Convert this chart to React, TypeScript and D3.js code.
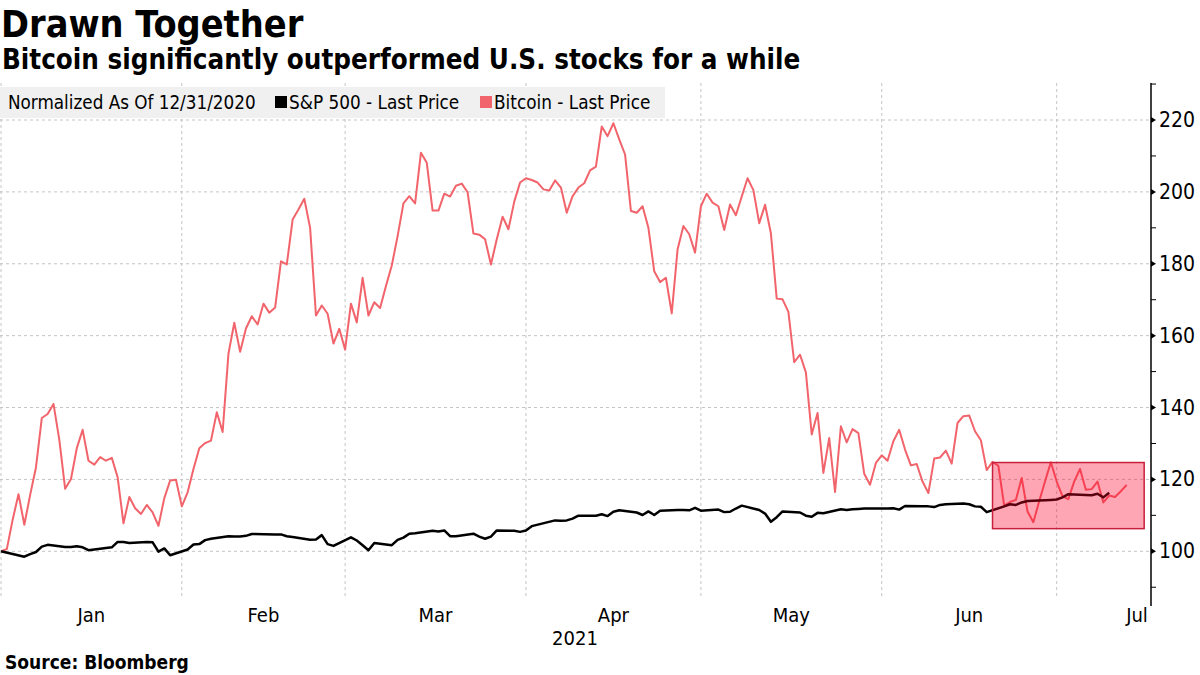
import * as d3 from "d3";

// Bitcoin, daily from 12/31/2020, normalized to 100
const btcStart = "2020-12-31";
const btcValues = [
  100, 100.6, 108.8, 115.9, 107.4, 115.7, 123.4, 137.1, 138.2, 141, 131, 117.4, 120.1, 128.7, 133.8, 125.2,
  124.1, 126.2, 125.2, 126, 120.6, 107.8, 115.1, 112, 110.4, 112.9, 110.8, 107.1, 114.8, 119.7, 119.9, 112.5,
  116.4, 122.9, 128.7, 130.1, 130.8, 138.7, 133.2, 155, 163.6, 155.5, 162, 165.4, 163.1, 168.9, 166.4, 167.8,
  180.7, 179.8, 192.3, 195.1, 198.1, 190, 165.6, 168.4, 166.1, 157.8, 161.9, 156.1, 168.9, 163.7, 176.1, 165.6,
  169.3, 167.7, 173.8, 179.5, 187.7, 196.8, 198.8, 196.8, 210.9, 208.1, 194.8, 194.8, 199.5, 198.7, 201.7, 202.3,
  199.9, 188.4, 188.1, 186.8, 179.8, 186.8, 193.1, 189.6, 197.3, 202.6, 203.8, 203.3, 202.6, 200.7, 200.4, 203.2,
  201.2, 194.2, 198.8, 201.2, 202.4, 206, 207, 218.2, 215.5, 219.1, 214.6, 210.4, 194.7, 194.2, 196, 190,
  177.9, 174.9, 176.1, 166.2, 184, 190.5, 188.2, 183.1, 196, 199.5, 197, 196, 189.4, 196.5, 193.5, 198.7,
  203.8, 200.5, 191.3, 196.4, 188.5, 170.3, 170.1, 166.6, 152.6, 154.7, 149.8, 132.5, 138.5, 121.8, 131.5, 116.5,
  134.8, 130.3, 134, 132.9, 121.6, 118.5, 124.6, 126.7, 125.2, 130.6, 133.8, 128.3, 123.9, 124.3, 119.4, 116.2,
  125.8, 126.1, 128, 124.4, 135.7, 137.6, 137.8, 133.4, 130.9, 122.6, 124.9, 123.8, 112.7, 113.7, 114.3, 120.4,
  111.1, 108.1, 113.9, 119.4, 124.8, 119.4, 115.3, 114.5, 119.4, 122.9, 117.1, 117.3, 119.4, 113.6, 115.5, 115.1,
  116.7, 118.5,
];

// S&P 500, trading days
const spxDates = [
  "2020-12-31", "2021-01-04", "2021-01-05", "2021-01-06", "2021-01-07", "2021-01-08", "2021-01-11", "2021-01-12",
  "2021-01-13", "2021-01-14", "2021-01-15", "2021-01-19", "2021-01-20", "2021-01-21", "2021-01-22", "2021-01-25",
  "2021-01-26", "2021-01-27", "2021-01-28", "2021-01-29", "2021-02-01", "2021-02-02", "2021-02-03", "2021-02-04",
  "2021-02-05", "2021-02-08", "2021-02-09", "2021-02-10", "2021-02-11", "2021-02-12", "2021-02-16", "2021-02-17",
  "2021-02-18", "2021-02-19", "2021-02-22", "2021-02-23", "2021-02-24", "2021-02-25", "2021-02-26", "2021-03-01",
  "2021-03-02", "2021-03-03", "2021-03-04", "2021-03-05", "2021-03-08", "2021-03-09", "2021-03-10", "2021-03-11",
  "2021-03-12", "2021-03-15", "2021-03-16", "2021-03-17", "2021-03-18", "2021-03-19", "2021-03-22", "2021-03-23",
  "2021-03-24", "2021-03-25", "2021-03-26", "2021-03-29", "2021-03-30", "2021-03-31", "2021-04-01", "2021-04-05",
  "2021-04-06", "2021-04-07", "2021-04-08", "2021-04-09", "2021-04-12", "2021-04-13", "2021-04-14", "2021-04-15",
  "2021-04-16", "2021-04-19", "2021-04-20", "2021-04-21", "2021-04-22", "2021-04-23", "2021-04-26", "2021-04-27",
  "2021-04-28", "2021-04-29", "2021-04-30", "2021-05-03", "2021-05-04", "2021-05-05", "2021-05-06", "2021-05-07",
  "2021-05-10", "2021-05-11", "2021-05-12", "2021-05-13", "2021-05-14", "2021-05-17", "2021-05-18", "2021-05-19",
  "2021-05-20", "2021-05-21", "2021-05-24", "2021-05-25", "2021-05-26", "2021-05-27", "2021-05-28", "2021-06-01",
  "2021-06-02", "2021-06-03", "2021-06-04", "2021-06-07", "2021-06-08", "2021-06-09", "2021-06-10", "2021-06-11",
  "2021-06-14", "2021-06-15", "2021-06-16", "2021-06-17", "2021-06-18", "2021-06-21", "2021-06-22", "2021-06-23",
  "2021-06-24", "2021-06-25", "2021-06-28", "2021-06-29", "2021-06-30", "2021-07-01", "2021-07-02", "2021-07-06",
  "2021-07-07", "2021-07-08", "2021-07-09",
];
const spxValues = [
  100, 98.5, 99.2, 99.8, 101.3, 101.8, 101.2, 101.2, 101.4, 101.1, 100.3, 101.1, 102.6, 102.6, 102.3, 102.6,
  102.5, 99.9, 100.8, 98.9, 100.5, 101.9, 102, 103.1, 103.5, 104.2, 104.1, 104.1, 104.3, 104.8, 104.7, 104.7,
  104.2, 104, 103.2, 103.3, 104.5, 102, 101.5, 103.9, 103, 101.7, 100.3, 102.3, 101.7, 103.2, 103.8, 104.9,
  105, 105.7, 105.5, 105.8, 104.2, 104.2, 104.9, 104.1, 103.5, 104.1, 105.8, 105.7, 105.4, 105.8, 107, 108.6,
  108.5, 108.6, 109.1, 109.9, 109.9, 110.3, 109.8, 111, 111.4, 110.8, 110.1, 111.1, 110.1, 111.3, 111.5, 111.5,
  111.4, 112.1, 111.3, 111.6, 110.9, 111, 111.9, 112.7, 111.5, 110.5, 108.2, 109.5, 111.1, 110.8, 109.9, 109.6,
  110.7, 110.6, 111.7, 111.5, 111.7, 111.8, 111.9, 111.9, 112, 111.6, 112.6, 112.5, 112.5, 112.3, 112.9, 113.1,
  113.3, 113.1, 112.5, 112.4, 110.9, 112.5, 113.1, 112.9, 113.6, 114, 114.2, 114.3, 114.4, 115, 115.9, 115.6,
  116, 115, 116.3,
];

const yTicks = [100, 120, 140, 160, 180, 200, 220];
const yMinorTicks = [90, 110, 130, 150, 170, 190, 210, 230];
const highlight = { start: "2021-06-19", end: "2021-07-15", low: 106.3, high: 124.7 };

const title = "Drawn Together";
const subtitle = "Bitcoin significantly outperformed U.S. stocks for a while";
const legendNote = "Normalized As Of 12/31/2020";
const spxLabel = "S&P 500 - Last Price";
const btcLabel = "Bitcoin - Last Price";
const yearLabel = "2021";
const source = "Source: Bloomberg";

const W = 1200;
const H = 675;
const FONT = "'DejaVu Sans Condensed', 'DejaVu Sans', sans-serif";
const BTC_COLOR = "#f2646b";

export default function App() {
  const parse = d3.timeParse("%Y-%m-%d");
  const start = parse(btcStart) as Date;
  const btc = btcValues.map((v, i) => ({ date: d3.timeDay.offset(start, i), value: v }));
  const spx = spxDates.map((d, i) => ({ date: parse(d) as Date, value: spxValues[i] }));

  const axisX = 1151;
  const x = d3.scaleTime()
    .domain([start, parse("2021-07-16") as Date])
    .range([1, 1150]);
  const y = d3.scaleLinear().domain([100, 220]).range([551.3, 120]);
  const plotTop = 83;
  const plotBottom = 598;

  const line = d3.line<{ date: Date; value: number }>()
    .x(d => x(d.date))
    .y(d => y(d.value));

  // month boundaries (last day of each month)
  const bounds = [start, ...d3.timeMonth.range(new Date(2021, 1, 1), new Date(2021, 6, 2)).map(m => d3.timeDay.offset(m, -1))];
  const monthLabels = ["Jan", "Feb", "Mar", "Apr", "May", "Jun", "Jul"];
  const labelX = monthLabels.map((_, i) => {
    if (i < bounds.length - 1) return (x(bounds[i]) + x(bounds[i + 1])) / 2;
    return axisX - 14;
  });

  const hx0 = x(parse(highlight.start) as Date);
  const hx1 = x(parse(highlight.end) as Date);

  return (
    <div style={{ position: "absolute", left: 0, top: 0 }}>
      <svg width={W} height={H} style={{ display: "block", background: "#fff" }} fontFamily={FONT}>
        <text x={1} y={37} fontSize={37.5} fontWeight="bold" fontStretch="condensed">{title}</text>
        <text x={2} y={69} fontSize={27.5} fontWeight="bold" fontStretch="condensed">{subtitle}</text>

        {/* gridlines */}
        {yTicks.map(t => (
          <line key={t} x1={0} x2={axisX} y1={y(t)} y2={y(t)} stroke="#c4c4c4" strokeWidth={1} strokeDasharray="3,3" />
        ))}
        {bounds.map((b, i) => (
          <line key={i} x1={x(b)} x2={x(b)} y1={plotTop} y2={plotBottom} stroke="#c4c4c4" strokeWidth={1} strokeDasharray="3,3" />
        ))}

        {/* legend */}
        <rect x={0} y={87} width={665} height={31} fill="#f0f0f0" />
        <text x={8} y={109} fontSize={18.7} fontStretch="condensed">{legendNote}</text>
        <rect x={275} y={96} width={12} height={12} fill="#000" />
        <text x={289} y={109} fontSize={18.8} fontStretch="condensed">{spxLabel}</text>
        <rect x={480} y={96} width={12} height={12} fill={BTC_COLOR} />
        <text x={494} y={109} fontSize={18.8} fontStretch="condensed">{btcLabel}</text>

        {/* series */}
        <path d={line(btc) ?? ""} fill="none" stroke={BTC_COLOR} strokeWidth={2} strokeLinejoin="round" />
        <path d={line(spx) ?? ""} fill="none" stroke="#000" strokeWidth={2.5} strokeLinejoin="round" />

        {/* highlight box */}
        <rect
          x={hx0}
          y={y(highlight.high)}
          width={hx1 - hx0}
          height={y(highlight.low) - y(highlight.high)}
          fill="rgba(255,0,40,0.35)"
          stroke="#c8203c"
          strokeWidth={1.5}
        />

        {/* right axis */}
        <line x1={axisX} x2={axisX} y1={plotTop} y2={606} stroke="#000" strokeWidth={1.5} />
        {yMinorTicks.map(t => (
          <line key={t} x1={axisX} x2={axisX + 5} y1={y(t)} y2={y(t)} stroke="#000" strokeWidth={1} />
        ))}
        {yTicks.map(t => (
          <g key={t}>
            <path d={`M${axisX},${y(t) - 3}L${axisX + 5},${y(t)}L${axisX},${y(t) + 3}Z`} fill="#000" />
            <text x={1159} y={y(t) + 7} fontSize={21} fontStretch="condensed">{t}</text>
          </g>
        ))}

        {/* x labels */}
        {monthLabels.map((m, i) => (
          <text key={m} x={labelX[i]} y={622} fontSize={20} textAnchor="middle" fontStretch="condensed">{m}</text>
        ))}
        <text x={575} y={645} fontSize={20} textAnchor="middle" fontStretch="condensed">{yearLabel}</text>

        <text x={5} y={669} fontSize={19} fontWeight="bold" fontStretch="condensed">{source}</text>
      </svg>
    </div>
  );
}
